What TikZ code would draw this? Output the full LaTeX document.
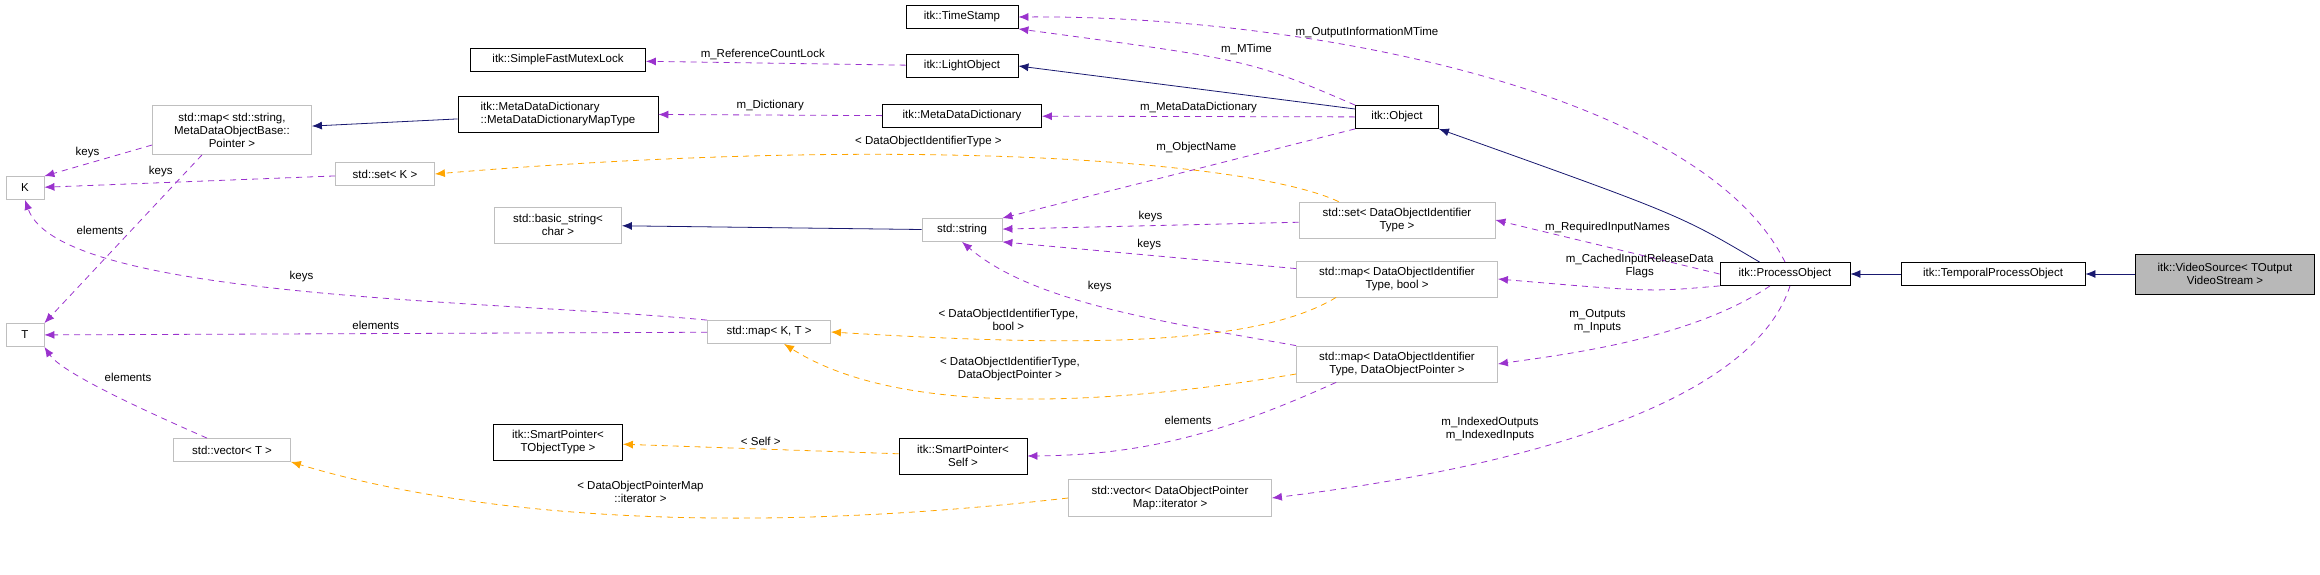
\documentclass[tikz,border=0pt]{standalone}
\usepackage{fontspec}
\setmainfont{Liberation Sans}
\usetikzlibrary{arrows.meta}
\definecolor{usecol}{HTML}{9A32CD}
\definecolor{tplcol}{HTML}{FFA500}
\definecolor{inhcol}{HTML}{191970}
\tikzset{
  cls/.style={draw=black,thick,fill=white,align=center,inner sep=2pt,minimum height=23pt,font=\fontsize{11.5}{13}\selectfont},
  ext/.style={cls,draw=black!25},
  me/.style={cls,fill=black!28},
  lbl/.style={align=center,font=\fontsize{11.5}{13}\selectfont},
  use/.style={draw=usecol,dash pattern=on 6pt off 5pt,thick,-{Latex[length=10pt,width=8pt]}},
  tpl/.style={draw=tplcol,dash pattern=on 6pt off 5pt,thick,-{Latex[length=10pt,width=8pt]}},
  inh/.style={draw=inhcol,thick,-{Latex[length=10pt,width=8pt]}}
}
\begin{document}
\begin{tikzpicture}[x=1pt,y=-1pt]
    \useasboundingbox (0,0) rectangle (2320,575);
    % classes
    \node[me,minimum width=179pt,minimum height=40pt] (vs) at (2225,274) {itk::VideoSource< TOutput\\VideoStream >};
    \node[cls,minimum width=184pt] (tpo) at (1993,274) {itk::TemporalProcessObject};
    \node[cls,minimum width=130pt] (po) at (1785,274) {itk::ProcessObject};
    \node[cls,minimum width=83pt] (obj) at (1397,117) {itk::Object};
    \node[cls,minimum width=112pt] (ts) at (962,17) {itk::TimeStamp};
    \node[cls,minimum width=112pt] (lo) at (962,66) {itk::LightObject};
    \node[cls,minimum width=159pt] (mdd) at (962,116) {itk::MetaDataDictionary};
    \node[cls,minimum width=175pt] (mutex) at (558,60) {itk::SimpleFastMutexLock};
    \node[cls,minimum width=200pt,minimum height=36pt,align=left] (mapty) at (558,114) {itk::MetaDataDictionary\\::MetaDataDictionaryMapType};
    \node[ext,minimum width=159pt,minimum height=49pt] (mapstr) at (232,130) {std::map< std::string,\\MetaDataObjectBase::\\Pointer >};
    \node[ext,minimum width=38pt] (K) at (25,188) {K};
    \node[ext,minimum width=38pt] (T) at (25,335) {T};
    \node[ext,minimum width=99pt] (setK) at (385,174) {std::set< K >};
    \node[ext,minimum width=127pt,minimum height=36pt] (bstr) at (558,225) {std::basic\_string<\\char >};
    \node[ext,minimum width=80pt] (str) at (962,230) {std::string};
    \node[ext,minimum width=123pt] (mapKT) at (769,332) {std::map< K, T >};
    \node[ext,minimum width=117pt] (vecT) at (232,450) {std::vector< T >};
    \node[cls,minimum width=129pt,minimum height=36pt] (spT) at (558,442) {itk::SmartPointer<\\TObjectType >};
    \node[cls,minimum width=128pt,minimum height=36pt] (spS) at (963,456) {itk::SmartPointer<\\Self >};
    \node[ext,minimum width=196pt,minimum height=36pt] (setD) at (1397,220) {std::set< DataObjectIdentifier\\Type >};
    \node[ext,minimum width=201pt,minimum height=36pt] (mapB) at (1397,279) {std::map< DataObjectIdentifier\\Type, bool >};
    \node[ext,minimum width=201pt,minimum height=36pt] (mapP) at (1397,364) {std::map< DataObjectIdentifier\\Type, DataObjectPointer >};
    \node[ext,minimum width=203pt,minimum height=37pt] (vecP) at (1170,498) {std::vector< DataObjectPointer\\Map::iterator >};
    % inheritance
    \draw[inh] (vs) -- (tpo);
    \draw[inh] (tpo) -- (po);
    \path (po.north west) ++(40,0) coordinate (poA);
    \draw[inh] (poA) .. controls (1680,215) .. (obj.south east);
    \path (obj.west) ++(0,-8) coordinate (objA);
    \draw[inh] (objA) -- (lo.east);
    \draw[inh] (str) -- (bstr);
    \draw[inh] (mapty) -- (mapstr);
    % usage
    \draw[use] (lo) -- node[lbl,above,pos=.55] {m\_ReferenceCountLock} (mutex);
    \draw[use] (mdd) -- node[lbl,above] {m\_Dictionary} (mapty);
    \draw[use] (obj) -- node[lbl,above] {m\_MetaDataDictionary} (mdd);
    \draw[use] (obj.north west) .. controls (1250,60) .. node[lbl,pos=.45,above=6pt] {m\_MTime} (ts.south east);
    \draw[use] (obj.south west) -- node[lbl,pos=.45,above=12pt] {m\_ObjectName} (str.north east);
    \draw[use] (po.north) .. controls (1700,90) and (1300,15) .. node[lbl,pos=.62,above=8pt] {m\_OutputInformationMTime} (ts.east);
    \draw[use] (po.west) -- node[lbl,above=10pt] {m\_RequiredInputNames} (setD.east);
    \draw[use] (po.south west) .. controls (1650,292) .. node[lbl,pos=.5,above=8pt] {m\_CachedInputReleaseData\\Flags} (mapB.east);
    \path (po.south) ++(-15,0) coordinate (poB);
    \draw[use] (poB) .. controls (1690,340) and (1560,355) .. node[lbl,pos=.6,above=12pt] {m\_Outputs\\m\_Inputs} (mapP.east);
    \path (po.south) ++(5,0) coordinate (poC);
    \draw[use] (poC) .. controls (1750,410) and (1500,470) .. node[lbl,pos=.68,above=16pt] {m\_IndexedOutputs\\m\_IndexedInputs} (vecP.east);
    \draw[use] (setD) -- node[lbl,above] {keys} (str);
    \path (mapB.north west) ++(0,8) coordinate (mapBA);
    \draw[use] (mapBA) -- node[lbl,above=2pt] {keys} (str.south east);
    \draw[use] (mapP.north west) .. controls (1150,320) and (1030,300) .. node[lbl,pos=.5,above=10pt] {keys} (str.south);
    \path (mapP.south west) ++(40,0) coordinate (mapPA);
    \draw[use] (mapPA) .. controls (1230,430) and (1150,455) .. node[lbl,pos=.5,above=8pt] {elements} (spS.east);
    \path (mapstr.west) ++(0,15) coordinate (mapstrA);
    \draw[use] (mapstrA) -- node[lbl,above=2pt,pos=.6] {keys} (K.north east);
    \draw[use] (setK) -- node[lbl,above=2pt,pos=.6] {keys} (K);
    \path (mapstr.south) ++(-30,0) coordinate (mapstrB);
    \draw[use] (mapstrB) -- node[lbl,pos=.45,left=4pt] {elements} (T.north east);
    \draw[use] (mapKT.north west) .. controls (500,300) and (60,300) .. node[lbl,pos=.5,above=4pt] {keys} (K.south);
    \draw[use] (mapKT) -- node[lbl,above] {elements} (T);
    \path (vecT.north) ++(-25,0) coordinate (vecTA);
    \draw[use] (vecTA) .. controls (120,400) and (60,370) .. node[lbl,pos=.5,above right=2pt] {elements} (T.south east);
    % templates
    \path (setD.north west) ++(40,0) coordinate (setDA);
    \draw[tpl] (setDA) .. controls (1250,160) and (900,135) .. node[lbl,pos=.6,above=4pt] {< DataObjectIdentifierType >} (setK.east);
    \path (mapB.south west) ++(40,0) coordinate (mapBB);
    \draw[tpl] (mapBB) .. controls (1250,350) and (1050,345) .. node[lbl,pos=.72,above=6pt] {< DataObjectIdentifierType,\\bool >} (mapKT.east);
    \path (mapP.west) ++(0,10) coordinate (mapPB);
    \draw[tpl] (mapPB) .. controls (1050,415) and (880,405) .. node[lbl,pos=.45,above=14pt] {< DataObjectIdentifierType,\\DataObjectPointer >} ([xshift=15pt]mapKT.south);
    \draw[tpl] (spS) -- node[lbl,above] {< Self >} (spT);
    \draw[tpl] (vecP.west) .. controls (700,540) and (450,510) .. node[lbl,pos=.45,above=10pt] {< DataObjectPointerMap\\::iterator >} (vecT.south east);
\end{tikzpicture}
\end{document}
